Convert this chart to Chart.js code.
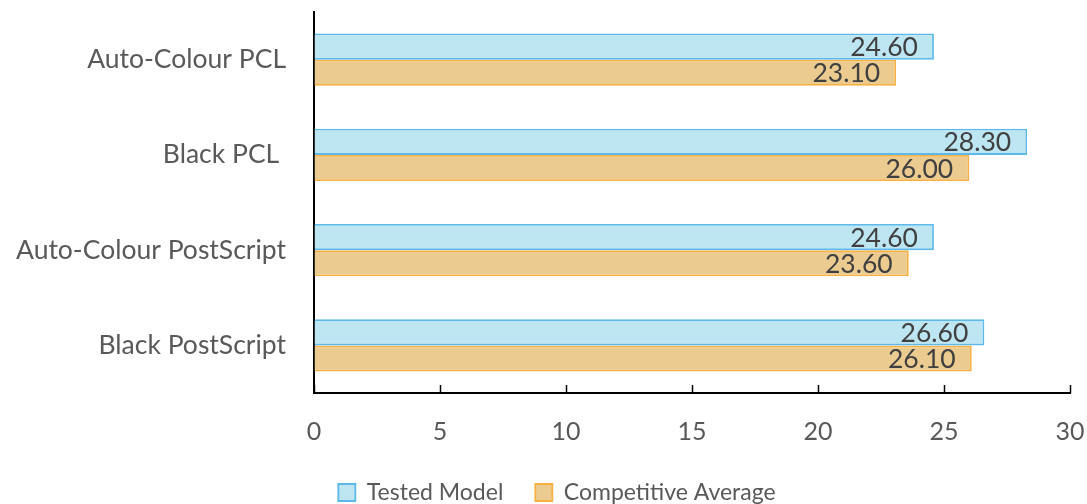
<!DOCTYPE html>
<html>
<head>
<meta charset="utf-8">
<script src="https://cdn.jsdelivr.net/npm/chart.js@4/dist/chart.umd.min.js"></script>
<style>
  html, body { margin: 0; padding: 0; background: #ffffff; }
  #wrap { width: 1087px; height: 504px; position: relative; }
</style>
</head>
<body>
<div id="wrap"><canvas id="c" width="1087" height="504"></canvas></div>
<script>
const categories = ["Auto-Colour PCL", "Black PCL ", "Auto-Colour PostScript", "Black PostScript"];
const testedModel = [24.6, 28.3, 24.6, 26.6];
const competitiveAverage = [23.1, 26.0, 23.6, 26.1];
const seriesNames = ["Tested Model", "Competitive Average"];
const xTicks = [0, 5, 10, 15, 20, 25, 30];

const FONT = "Lato, 'Open Sans', sans-serif";
const BOTTOM_PAD = -10;
const LEGEND_SHIFT = 22;

const valueLabels = {
  id: 'valueLabels',
  afterDatasetsDraw(chart) {
    const ctx = chart.ctx;
    ctx.save();
    ctx.font = "26.5px " + FONT;
    ctx.fillStyle = "#404040";
    ctx.textAlign = "right";
    ctx.textBaseline = "middle";
    chart.data.datasets.forEach((ds, di) => {
      const meta = chart.getDatasetMeta(di);
      meta.data.forEach((bar, i) => {
        ctx.fillText(ds.data[i].toFixed(2), bar.x - 16, bar.y + 1);
      });
    });
    ctx.restore();
  }
};

const innerTicks = {
  id: 'innerTicks',
  afterDraw(chart) {
    const sx = chart.scales.x;
    const ctx = chart.ctx;
    const yb = chart.chartArea.bottom;
    ctx.save();
    ctx.strokeStyle = "#000000";
    ctx.lineWidth = 1.5;
    xTicks.forEach(v => {
      const px = Math.round(sx.getPixelForValue(v)) + 0.5;
      ctx.beginPath();
      ctx.moveTo(px, yb);
      ctx.lineTo(px, yb - 8);
      ctx.stroke();
    });
    ctx.restore();
  }
};

const legendShift = {
  id: 'legendShift',
  beforeDraw(chart) {
    const lg = chart.legend;
    if (lg && !lg._shifted) {
      lg.left += LEGEND_SHIFT;
      lg.right += LEGEND_SHIFT;
      lg._shifted = true;
    }
  },
  afterLayout(chart) {
    if (chart.legend) chart.legend._shifted = false;
  }
};

new Chart(document.getElementById('c'), {
  type: 'bar',
  data: {
    labels: categories,
    datasets: [
      {
        label: seriesNames[0],
        data: testedModel,
        backgroundColor: "#BDE6F2",
        borderColor: "#5DB9EA",
        borderWidth: 1.8,
        barPercentage: 1.0,
        categoryPercentage: 0.55
      },
      {
        label: seriesNames[1],
        data: competitiveAverage,
        backgroundColor: "#EBCB8F",
        borderColor: "#F7B142",
        borderWidth: 1.8,
        barPercentage: 1.0,
        categoryPercentage: 0.55
      }
    ]
  },
  options: {
    indexAxis: 'y',
    responsive: false,
    animation: false,
    layout: { padding: { top: 12, right: 17, left: 0, bottom: BOTTOM_PAD } },
    scales: {
      x: {
        min: 0,
        max: 30,
        afterBuildTicks(scale) { scale.ticks = xTicks.map(v => ({ value: v })); },
        afterFit(scale) {
          scale.paddingLeft = 0;
          scale.paddingRight = 0;
          const lh = scale.chart.legend ? scale.chart.legend.height : 0;
          scale.height = 504 - 393 - lh - BOTTOM_PAD;
        },
        grid: { display: true, drawOnChartArea: false, drawTicks: false },
        border: { display: true, color: "#000000", width: 2 },
        ticks: {
          color: "#595959",
          font: { family: FONT, size: 25 },
          padding: 24,
          maxRotation: 0
        }
      },
      y: {
        afterFit(scale) {
          scale.width = 314;
          scale.paddingTop = 0;
          scale.paddingBottom = 0;
        },
        grid: { display: false, drawTicks: false },
        border: { display: true, color: "#000000", width: 2 },
        ticks: {
          color: "#595959",
          font: { family: FONT, size: 26.5 },
          padding: 28
        }
      }
    },
    plugins: {
      legend: {
        position: 'bottom',
        labels: {
          color: "#595959",
          font: { family: FONT, size: 23 },
          boxWidth: 17,
          boxHeight: 17,
          padding: 32
        }
      },
      tooltip: { enabled: false }
    }
  },
  plugins: [valueLabels, innerTicks, legendShift]
});
</script>
</body>
</html>
